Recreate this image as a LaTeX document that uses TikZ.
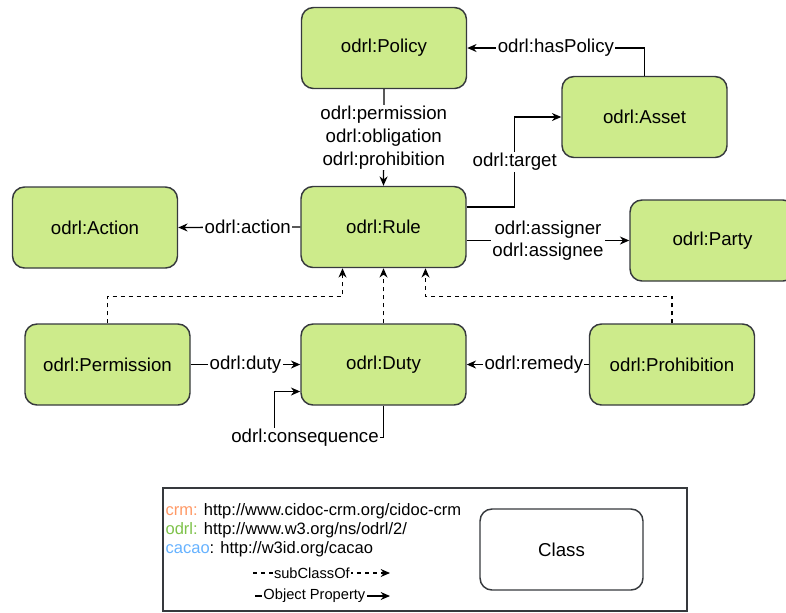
\documentclass[tikz,border=0pt]{standalone}
\usepackage{fontspec}
\setmainfont{Liberation Sans}
\usetikzlibrary{arrows.meta, calc}
\definecolor{clsgreen}{HTML}{CDEB8B}
\definecolor{clsline}{HTML}{36393D}
\definecolor{crmcol}{HTML}{FF9966}
\definecolor{odrlcol}{HTML}{7EC24A}
\definecolor{cacaocol}{HTML}{66B2FF}

\begin{document}
\begin{tikzpicture}[x=0.75pt, y=-0.75pt, >={Stealth[length=7pt, width=6pt]},
	font=\fontsize{14}{17}\selectfont,
	cls/.style={draw=clsline, line width=1.1pt, fill=clsgreen, rounded corners=9pt,
		minimum width=123.75pt, minimum height=60.75pt},
	prop/.style={->, line width=1pt},
	sub/.style={->, line width=1pt, dash pattern=on 3pt off 3pt},
	lbl/.style={fill=white, inner sep=1pt, align=center}]
	\useasboundingbox (0,0) rectangle (786,612);
	% classes
	\node[cls] (pol) at (384,48) {odrl:Policy};
	\node[cls] (ast) at (644.5,117) {odrl:Asset};
	\node[cls] (act) at (95,227.5) {odrl:Action};
	\node[cls] (rul) at (383.5,227) {odrl:Rule};
	\node[cls] (pty) at (712.5,240.5) {odrl:Party};
	\node[cls] (prm) at (107.5,364.5) {odrl:Permission};
	\node[cls] (dty) at (383.5,364.5) {odrl:Duty};
	\node[cls] (prh) at (672,364.5) {odrl:Prohibition};
	% object properties
	\draw[prop] (ast.north) |- node[lbl, pos=0.75] {odrl:hasPolicy} (pol.east);
	\draw[prop] (pol.south) -- node[lbl] {odrl:permission\\ odrl:obligation\\ odrl:prohibition} (rul.north);
	\draw[prop] ([yshift=15pt]rul.east) -- ++(48,0) |- node[lbl, pos=0.25] {odrl:target} (ast.west);
	\draw[prop] (rul.west) -- node[lbl, pos=0.43] {odrl:action} (act.east);
	\draw[prop] (rul.east |- pty.west) -- node[lbl] {odrl:assigner\\ odrl:assignee} (pty.west);
	\draw[prop] (prm.east) -- node[lbl] {odrl:duty} (dty.west);
	\draw[prop] (prh.west) -- node[lbl, pos=0.45] {odrl:remedy} (dty.east);
	\draw[prop] (dty.south) -- ++(0,32) -- node[lbl, pos=0.72] {odrl:consequence} ++(-109,0)
		|- ([yshift=-20.25pt]dty.west);
	% subclasses
	\draw[sub] (prm.north) -- ++(0,-27) -| ([xshift=-30.75pt]rul.south);
	\draw[sub] (dty.north) -- (rul.south);
	\draw[sub] (prh.north) -- ++(0,-27) -| ([xshift=31.5pt]rul.south);
	% legend
	\draw[clsline, line width=0.8pt] (163,488) rectangle (687,611);
	\begin{scope}[font=\fontsize{12.4}{14}\selectfont]
		\node[anchor=west, inner sep=1pt] (ns1) at (164,511) {\textcolor{crmcol}{crm:} http://www.cidoc-crm.org/cidoc-crm};
		\node[anchor=west, inner sep=1pt] (ns2) at (164,530) {\textcolor{odrlcol}{odrl:} http://www.w3.org/ns/odrl/2/};
		\node[anchor=west, inner sep=1pt] (ns3) at (164,549) {\textcolor{cacaocol}{cacao}: http://w3id.org/cacao};
	\end{scope}
	\coordinate (s0) at (253,573);
	\coordinate (s1) at (390,573);
	\coordinate (o0) at (255,596);
	\coordinate (o1) at (390,596);
	\draw[sub, line width=0.8pt] (s0) -- node[lbl, pos=0.43, font=\fontsize{11}{13}\selectfont] {subClassOf} (s1);
	\draw[prop, line width=0.8pt] (o0) -- node[lbl, pos=0.44, font=\fontsize{11}{13}\selectfont] {Object Property} (o1);
	\node[cls, fill=white, minimum width=122.25pt] (cls) at (561.5,549.5) {Class};
\end{tikzpicture}
\end{document}
